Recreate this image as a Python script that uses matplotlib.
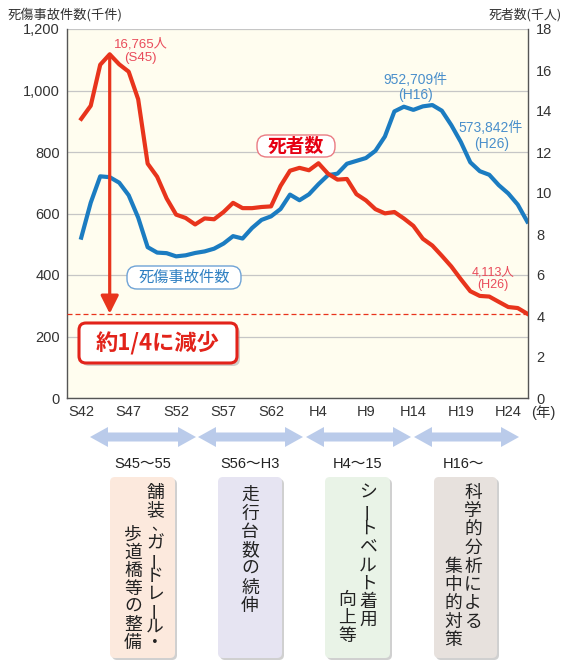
import matplotlib
matplotlib.use('Agg')
import matplotlib.pyplot as plt
from matplotlib.patches import FancyBboxPatch, Polygon
from matplotlib.transforms import Affine2D

# ---------------- data ----------------
years = list(range(1967, 2015))
accidents = [521.5, 635.1, 720.9, 718.1, 700.3, 659.3, 586.7, 490.5, 472.9, 471.0,
             460.6, 464.0, 471.6, 476.7, 485.6, 502.3, 526.4, 518.6, 552.8, 579.2,
             590.7, 614.5, 661.4, 643.1, 662.4, 695.3, 724.7, 729.5, 761.8, 771.1,
             780.4, 803.9, 850.4, 932.0, 947.3, 937.0, 948.4, 952.7, 934.3, 887.3,
             832.7, 766.4, 737.6, 725.9, 692.1, 665.2, 629.0, 573.8]
deaths = [13.618, 14.256, 16.257, 16.765, 16.278, 15.918, 14.574, 11.432, 10.792, 9.734,
          8.945, 8.783, 8.466, 8.760, 8.719, 9.073, 9.520, 9.262, 9.261, 9.317,
          9.347, 10.344, 11.086, 11.227, 11.109, 11.451, 10.942, 10.653, 10.684, 9.943,
          9.640, 9.211, 9.006, 9.073, 8.757, 8.396, 7.768, 7.436, 6.937, 6.415,
          5.796, 5.209, 4.979, 4.948, 4.691, 4.438, 4.388, 4.113]
xtick_years = [1967, 1972, 1977, 1982, 1987, 1992, 1997, 2002, 2007, 2012]
xtick_labels = ['S42', 'S47', 'S52', 'S57', 'S62', 'H4', 'H9', 'H14', 'H19', 'H24']
left_ticks = [0, 200, 400, 600, 800, 1000, 1200]
right_ticks = [0, 2, 4, 6, 8, 10, 12, 14, 16, 18]
period_labels = ['S45～55', 'S56～H3', 'H4～15', 'H16～']
box_columns = [
    ['舗装、ガードレール・', '歩道橋等の整備'],
    ['走行台数の続伸'],
    ['シートベルト着用', '向上等'],
    ['科学的分析による', '集中的対策'],
]
box_colors = ['#FCE9DD', '#E6E4F2', '#E9F3E7', '#E7E1DD']

RED = '#E8341C'
BLUE = '#1B7CC1'
RED_TXT = '#E94B5A'
BLUE_TXT = '#4A8FCB'
DARK = '#333333'

plt.rcParams['font.family'] = ['Liberation Sans', 'Noto Sans CJK JP']
JP = ['Noto Sans CJK JP']

W, H = 564, 661
fig = plt.figure(figsize=(W / 100, H / 100), dpi=100)
PT = Affine2D().scale(1 / W, -1 / H).translate(0, 1) + fig.transFigure  # pixel coords, top-left origin

ax = fig.add_axes([67 / W, 1 - 398 / H, (528 - 67) / W, (398 - 29) / H])
ax.set_facecolor('#FFFDEF')
ax.set_xlim(1965.5, 2014.08)
ax.set_ylim(0, 1200)
ax2 = ax.twinx()
ax2.set_ylim(0, 18)

ax.set_axisbelow(True)
ax.grid(axis='y', color='#C6C6C6', lw=0.9)
ax.grid(axis='x', visible=False)

ax.plot(years, accidents, color=BLUE, lw=3.0, solid_joinstyle='round', zorder=3)
ax2.plot(years, deaths, color=RED, lw=3.0, solid_joinstyle='round', zorder=3)

# dashed reference line at latest deaths
ax2.axhline(deaths[-1], color=RED, lw=0.9, ls=(0, (4, 2.4)), zorder=2)
# peak arrow
peak_i = deaths.index(max(deaths))
ax2.annotate('', xy=(years[peak_i], deaths[-1]), xytext=(years[peak_i], deaths[peak_i]),
             arrowprops=dict(arrowstyle='-|>,head_length=0.9,head_width=0.45',
                             lw=2.3, color=RED, shrinkA=0, shrinkB=0, mutation_scale=12),
             zorder=4)

# ticks
ax.set_yticks(left_ticks)
ax.set_yticklabels([f'{v:,}' for v in left_ticks])
ax2.set_yticks(right_ticks)
ax2.set_yticklabels([str(v) for v in right_ticks])
ax.set_xticks(xtick_years)
ax.set_xticklabels(xtick_labels)
ax.tick_params(axis='y', length=0, pad=5, labelsize=10.5, labelcolor=DARK)
ax.tick_params(axis='x', length=0, pad=5, labelsize=10.5, labelcolor=DARK)
ax2.tick_params(axis='y', length=0, pad=6, labelsize=10.5, labelcolor=DARK)

for s in ['left', 'bottom']:
    ax.spines[s].set_color('#555555')
    ax.spines[s].set_linewidth(1.0)
ax.spines['top'].set_visible(False)
ax.spines['right'].set_visible(False)
for s in ['left', 'bottom', 'top']:
    ax2.spines[s].set_visible(False)
ax2.spines['right'].set_color('#555555')
ax2.spines['right'].set_linewidth(1.0)

# axis titles
fig.text(8 / W, 1 - 15 / H, '死傷事故件数(千件)', fontsize=9.5, color=DARK, ha='left', va='center', family=JP)
fig.text(562 / W, 1 - 15 / H, '死者数(千人)', fontsize=9.3, color=DARK, ha='right', va='center', family=JP)
fig.text(531 / W, 1 - 413 / H, '(年)', fontsize=10.5, color=DARK, ha='left', va='center')

# value annotations
ax2.text(1973.3, 17.27, f'{deaths[peak_i]*1000:,.0f}人', fontsize=9.5, color=RED_TXT, ha='center', va='center')
ax2.text(1973.2, 16.59, '(S45)', fontsize=9.5, color=RED_TXT, ha='center', va='center')
ax2.text(2010.4, 6.13, f'{deaths[-1]*1000:,.0f}人', fontsize=9, color=RED_TXT, ha='center', va='center')
ax2.text(2010.4, 5.50, '(H26)', fontsize=9, color=RED_TXT, ha='center', va='center')
ax.text(2002.2, 1034.6, '952,709件', fontsize=10, color=BLUE_TXT, ha='center', va='center')
ax.text(2002.2, 985.9, '(H16)', fontsize=10, color=BLUE_TXT, ha='center', va='center')
ax.text(2010.1, 878.9, '573,842件', fontsize=10, color=BLUE_TXT, ha='center', va='center')
ax.text(2010.2, 827.0, '(H26)', fontsize=10, color=BLUE_TXT, ha='center', va='center')


def pbox(x0, y0, x1, y1, fc, ec='none', lw=0.0, r=5, shadow=None, z=1):
    if shadow:
        sh = FancyBboxPatch((x0 + shadow, y0 + shadow), x1 - x0, y1 - y0,
                            boxstyle=f'round,pad=0,rounding_size={r}', transform=PT,
                            fc='#AAAAAA', ec='none', alpha=0.55, zorder=z)
        fig.add_artist(sh)
    p = FancyBboxPatch((x0, y0), x1 - x0, y1 - y0, boxstyle=f'round,pad=0,rounding_size={r}',
                       transform=PT, fc=fc, ec=ec, lw=lw, zorder=z + 0.1)
    fig.add_artist(p)


def ptext(x, y, s, **kw):
    kw.setdefault('ha', 'center')
    kw.setdefault('va', 'center')
    t = fig.text(x / W, 1 - y / H, s, **kw)
    t.set_zorder(5)
    return t


# in-chart legend labels
pbox(257, 135, 335, 157, 'white', ec='#EA7B83', lw=1.0, r=10)
ptext(296, 146, '死者数', fontsize=13.5, color='#E60012', weight='bold', family=JP)
pbox(127, 266, 241, 289, 'white', ec='#6FA3D6', lw=1.0, r=10)
ptext(184, 277.5, '死傷事故件数', fontsize=11, color='#2F80C2', family=JP)
pbox(79, 323, 237, 363, 'white', ec='#E2231A', lw=2.2, r=7, shadow=3)
ptext(158, 343, '約1/4に減少', fontsize=16, color='#E2231A', weight='bold', family=JP)

# period arrows
def darrow(x0, x1, yc, body=9, head=20, hl=18):
    pts = [(x0, yc), (x0 + hl, yc - head / 2), (x0 + hl, yc - body / 2), (x1 - hl, yc - body / 2),
           (x1 - hl, yc - head / 2), (x1, yc), (x1 - hl, yc + head / 2), (x1 - hl, yc + body / 2),
           (x0 + hl, yc + body / 2), (x0 + hl, yc + head / 2)]
    fig.add_artist(Polygon(pts, closed=True, transform=PT, fc='#BACBEA', ec='none'))


arrow_spans = [(90, 196), (198, 303), (306, 411), (414, 519)]
for (a, b) in arrow_spans:
    darrow(a, b, 437)

label_x = [143, 250, 358, 464]
for lx, lab in zip(label_x, period_labels):
    ptext(lx, 464, lab, fontsize=10.5, color='#222222')

# vertical text boxes
box_x = [(110, 175), (218, 282), (325, 390), (434, 497)]
col_specs = [
    [(155, 493, 16.7), (133, 535, 18.0)],
    [(250, 495, 18.5)],
    [(368, 493, 18.1), (347, 600, 18.0)],
    [(473, 493, 18.4), (453, 567, 18.25)],
]
for (bx0, bx1), fc, cols, specs in zip(box_x, box_colors, box_columns, col_specs):
    pbox(bx0, 477, bx1, 658, fc, r=5, shadow=2)
    for text, (cx, y0, pitch) in zip(cols, specs):
        for i, ch in enumerate(text):
            y = y0 + i * pitch
            if ch == 'ー':
                ptext(cx, y, ch, fontsize=12.8, color='#222222', family=JP, rotation=90)
            elif ch == '、':
                ptext(cx + 4, y - 1, ch, fontsize=11, color='#222222', family=JP)
            else:
                ptext(cx, y, ch, fontsize=12.8, color='#222222', family=JP)

fig.savefig('out.png', dpi=100)
